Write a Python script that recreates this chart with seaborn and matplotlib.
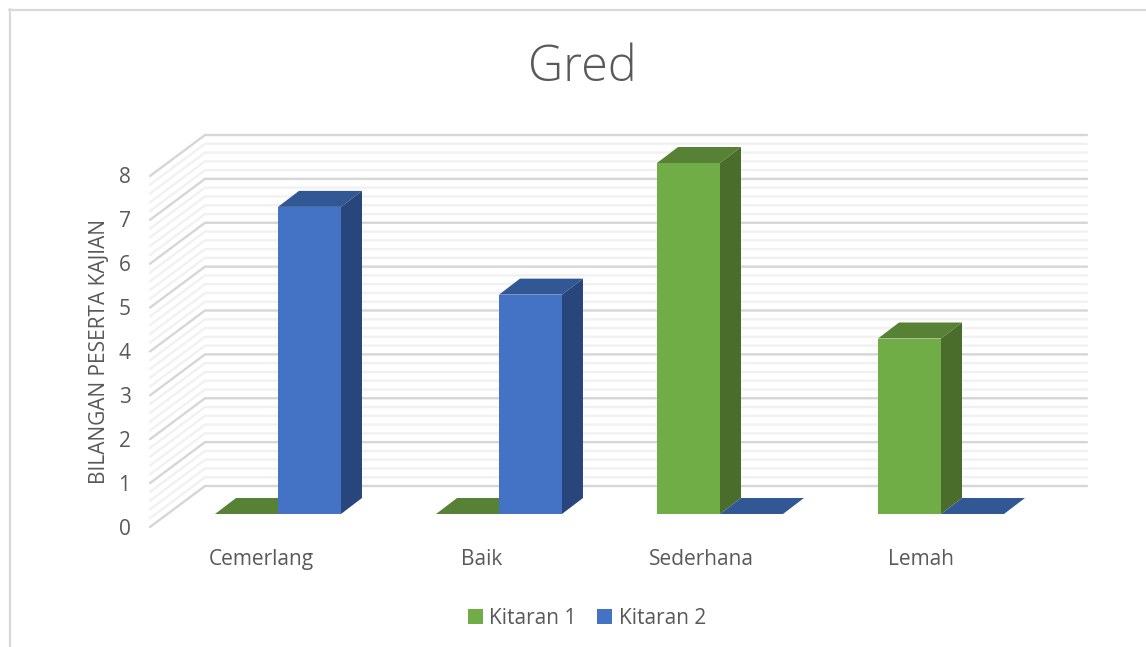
import numpy as np
import pandas as pd
import matplotlib
matplotlib.use("Agg")
import matplotlib.pyplot as plt
import seaborn as sns
from matplotlib.lines import Line2D
from matplotlib.patches import Polygon

categories = ["Cemerlang", "Baik", "Sederhana", "Lemah"]
kitaran_1 = [0, 0, 8, 4]
kitaran_2 = [7, 5, 0, 0]
series_names = ["Kitaran 1", "Kitaran 2"]
y_ticks = [0, 1, 2, 3, 4, 5, 6, 7, 8]

W, H = 1146, 647
TXT = "#595959"
front = {"Kitaran 1": "#70AD47", "Kitaran 2": "#4472C4"}
top_c = {"Kitaran 1": "#578235", "Kitaran 2": "#325795"}
side_c = {"Kitaran 1": "#4B6D2B", "Kitaran 2": "#29467C"}

sns.set_theme(style="white")
plt.rcParams["font.family"] = ["Open Sans", "DejaVu Sans"]

df = pd.DataFrame({
    "grade": categories * 2,
    "count": kitaran_1 + kitaran_2,
    "series": [series_names[0]] * 4 + [series_names[1]] * 4,
})

fig = plt.figure(figsize=(W / 100, H / 100), dpi=100, facecolor="white")


def box(left, right, bottom, top):
    return [left / W, 1 - bottom / H, (right - left) / W, (bottom - top) / H]


# main axes sits on the plane of the bar fronts
ax = fig.add_axes(box(150, 1087, 514, 163))
sns.barplot(data=df, x="grade", y="count", hue="series", order=categories,
            hue_order=series_names, palette=front, width=0.57, gap=0,
            saturation=1, ax=ax, zorder=3, linewidth=0, legend=True)

xlim = ((150 - 278) / 221, (1087 - 278) / 221)
unit_x, unit_y = 221, 351 / 8
bar_dx, bar_dy = 21 / unit_x, 16 / unit_y

# walls
wall_x0, wall_x1, wall_x2 = xlim[0], (205 - 278) / unit_x, xlim[1]
wall_front, wall_back = -13 / unit_y, 28 / unit_y
for v in np.arange(0, 8.01, 0.2):
    major = abs(v - round(v)) < 1e-6
    col = "#D6D6D6" if major else "#F1F1F1"
    z = 1.5 if major else 1
    ax.plot([wall_x0, wall_x1, wall_x2],
            [v + wall_front, v + wall_back, v + wall_back],
            color=col, lw=1.7, zorder=z, clip_on=False, solid_joinstyle="miter")

# depth faces, built from the bars that seaborn drew
for container, name in zip(ax.containers, series_names):
    for bar in container:
        x0, w, h = bar.get_x(), bar.get_width(), bar.get_height()
        x1 = x0 + w
        ax.add_patch(Polygon([(x0, h), (x1, h), (x1 + bar_dx, h + bar_dy), (x0 + bar_dx, h + bar_dy)],
                             fc=top_c[name], ec="none", zorder=2.5, clip_on=False))
        if h > 0:
            ax.add_patch(Polygon([(x1, 0), (x1 + bar_dx, bar_dy), (x1 + bar_dx, h + bar_dy), (x1, h)],
                                 fc=side_c[name], ec="none", zorder=2.5, clip_on=False))

ax.set_xlim(xlim)
ax.set_ylim(0, 8)
ax.set_xlabel("")
ax.set_ylabel("")
ax.set_xticks([])
ax.set_yticks([])
sns.despine(ax=ax, left=True, bottom=True)
ax.patch.set_visible(False)

handles, labels = ax.get_legend_handles_labels()
ax.get_legend().remove()
fig.legend(handles, labels, loc="center", bbox_to_anchor=(587 / W, 1 - 618 / H), ncol=2,
           frameon=False, fontsize=15, labelcolor=TXT, handlelength=0.72, handleheight=0.72,
           handletextpad=0.3, columnspacing=1.0)

# tick labels live on the front edge of the floor, a bit lower than the bars
ax_t = fig.add_axes(box(150, 1087, 527, 175))
ax_t.set_xlim(xlim)
ax_t.set_ylim(0, 8)
ax_t.patch.set_visible(False)
ax_t.set_yticks(y_ticks)
ax_t.set_xticks(np.arange(4) + np.array([-17, -17, -19, -20]) / unit_x, categories)
ax_t.tick_params(axis="y", length=0, pad=14, labelsize=15, labelcolor=TXT)
ax_t.tick_params(axis="x", length=0, pad=15.5, labelsize=15, labelcolor=TXT)
sns.despine(ax=ax_t, left=True, bottom=True)
ax_t.set_ylabel("BILANGAN PESERTA KAJIAN", fontsize=15, color=TXT, labelpad=8)
ax_t.yaxis.set_label_coords((110 - 150) / 937, (527 - 351) / 352)

fig.text(582.5 / W, 1 - 68 / H, "Gred", ha="center", va="center", fontsize=35,
         color=TXT, fontweight="light")

# outer chart border, only top and left fall inside the crop
border = dict(color="#D9D9D9", lw=1.6, transform=fig.transFigure)
fig.add_artist(Line2D([9 / W, 1], [1 - 9.5 / H, 1 - 9.5 / H], **border))
fig.add_artist(Line2D([9.5 / W, 9.5 / W], [0, 1 - 9 / H], **border))

fig.savefig("out.png", dpi=100, facecolor="white")
